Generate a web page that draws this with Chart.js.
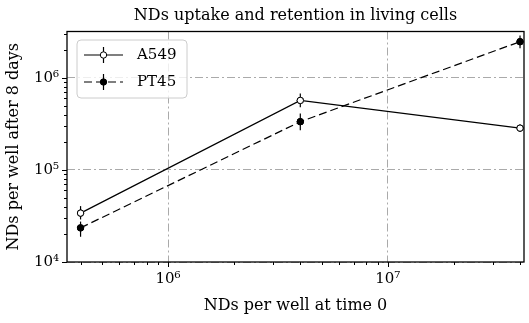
<!DOCTYPE html>
<html>
<head>
<meta charset="utf-8">
<script src="https://cdn.jsdelivr.net/npm/chart.js@4.4.0/dist/chart.umd.min.js"></script>
<style>
  html, body { margin: 0; padding: 0; background: #fff; }
  #wrap { width: 529px; height: 323px; }
</style>
</head>
<body>
<div id="wrap"><canvas id="chart" width="529" height="323"></canvas></div>
<script>
// NDs per well at time 0
const doses = [4e5, 4e6, 4e7];

// A549: value, lower / upper end of error bar
const a549 = [3.4e4, 5.7e5, 2.85e5];
const a549Lo = [2.9e4, 4.8e5, 2.6e5];
const a549Hi = [4.05e4, 6.8e5, 3.1e5];

// PT45
const pt45 = [2.35e4, 3.35e5, 2.48e6];
const pt45Lo = [1.88e4, 2.7e5, 2.1e6];
const pt45Hi = [2.75e4, 4.1e5, 2.9e6];

// axis ranges and major (labelled) ticks
const xRange = [3.47e5, 4.17e7];
const yRange = [1e4, 3.2e6];

const TITLE = 'NDs uptake and retention in living cells';
const FONT = "'DejaVu Serif', serif";
const GRID = 'rgb(170,170,170)';

var logTicks = (lo, hi) => {
    let out = [];
    for (let e = Math.floor(Math.log10(lo)); e <= Math.ceil(Math.log10(hi)); e++) {
        for (let m = 1; m <= 9; m++) {
            let v = m * Math.pow(10, e);
            if (v >= lo * 0.9999 && v <= hi * 1.0001) out.push(v);
        }
    }
    return out;
};
var isMajor = v => Math.abs(Math.log10(v) - Math.round(Math.log10(v))) < 1e-9;
const SUP = '⁰¹²³⁴⁵⁶⁷⁸⁹';
var powLabel = v => isMajor(v) ? '10' + String(Math.round(Math.log10(v))).split('').map(d => SUP[d]).join('') : '';

var pts = (ys) => doses.map((x, i) => ({ x: x, y: ys[i] }));

const errBars = [
    { lo: a549Lo, hi: a549Hi },
    { lo: pt45Lo, hi: pt45Hi }
];

// vertical error bars, markers drawn again on top
const errorBarPlugin = {
    id: 'errorBars',
    afterDatasetsDraw(chart) {
        const ctx = chart.ctx;
        const xs = chart.scales.x, ys = chart.scales.y;
        ctx.save();
        ctx.strokeStyle = '#000';
        ctx.lineWidth = 1.2;
        errBars.forEach(eb => {
            doses.forEach((d, i) => {
                const px = xs.getPixelForValue(d);
                ctx.beginPath();
                ctx.moveTo(px, ys.getPixelForValue(eb.lo[i]));
                ctx.lineTo(px, ys.getPixelForValue(eb.hi[i]));
                ctx.stroke();
            });
        });
        ctx.restore();
        chart.data.datasets.forEach((ds, di) => {
            chart.getDatasetMeta(di).data.forEach(p => p.draw(ctx, chart.chartArea));
        });
    }
};

// title, frame, tick marks and legend
const framePlugin = {
    id: 'frame',
    afterDraw(chart) {
        const ctx = chart.ctx;
        const a = chart.chartArea;
        const xs = chart.scales.x, ys = chart.scales.y;
        ctx.save();

        ctx.fillStyle = '#000';
        ctx.font = '16px ' + FONT;
        ctx.textAlign = 'center';
        ctx.textBaseline = 'alphabetic';
        ctx.fillText(TITLE, (a.left + a.right) / 2, 20);

        ctx.strokeStyle = '#000';
        ctx.lineWidth = 1;
        xs.ticks.forEach(t => {
            const px = Math.round(xs.getPixelForValue(t.value)) + 0.5;
            const len = isMajor(t.value) ? 5 : 3;
            ctx.beginPath();
            ctx.moveTo(px, a.bottom);
            ctx.lineTo(px, a.bottom + len);
            ctx.stroke();
        });
        ys.ticks.forEach(t => {
            const py = Math.round(ys.getPixelForValue(t.value)) + 0.5;
            const len = isMajor(t.value) ? 5 : 3;
            ctx.beginPath();
            ctx.moveTo(a.left, py);
            ctx.lineTo(a.left - len, py);
            ctx.stroke();
        });
        ctx.lineWidth = 1.3;
        ctx.strokeRect(a.left, a.top, a.right - a.left, a.bottom - a.top);

        // legend
        const bx = 77, by = 40, bw = 110, bh = 58;
        ctx.beginPath();
        ctx.roundRect(bx, by, bw, bh, 4);
        ctx.fillStyle = 'rgba(255,255,255,0.8)';
        ctx.fill();
        ctx.strokeStyle = 'rgb(204,204,204)';
        ctx.lineWidth = 1;
        ctx.stroke();
        chart.data.datasets.forEach((ds, i) => {
            const cy = 55 + i * 27;
            ctx.strokeStyle = '#000';
            ctx.lineWidth = 1.2;
            ctx.setLineDash(ds.borderDash || []);
            ctx.beginPath();
            ctx.moveTo(84, cy);
            ctx.lineTo(123, cy);
            ctx.stroke();
            ctx.setLineDash([]);
            ctx.beginPath();
            ctx.moveTo(103.5, cy - 8);
            ctx.lineTo(103.5, cy + 8);
            ctx.stroke();
            ctx.lineWidth = 1;
            ctx.beginPath();
            ctx.arc(103.5, cy, 3.2, 0, Math.PI * 2);
            ctx.fillStyle = ds.pointBackgroundColor;
            ctx.fill();
            ctx.stroke();
            ctx.fillStyle = '#000';
            ctx.font = '15px ' + FONT;
            ctx.textBaseline = 'middle';
            ctx.textAlign = 'left';
            ctx.fillText(ds.label, 137, cy);
        });
        ctx.restore();
    }
};

const ctx = document.getElementById('chart').getContext('2d');
var chart = new Chart(ctx, {
    type: 'line',
    data: {
        datasets: [{
            label: 'A549',
            data: pts(a549),
            borderColor: '#000',
            borderWidth: 1.2,
            pointRadius: 3.2,
            pointBorderWidth: 1,
            pointBorderColor: '#000',
            pointBackgroundColor: '#fff',
            tension: 0
        }, {
            label: 'PT45',
            data: pts(pt45),
            borderColor: '#000',
            borderWidth: 1.2,
            borderDash: [8, 4],
            pointRadius: 3.2,
            pointBorderWidth: 1,
            pointBorderColor: '#000',
            pointBackgroundColor: '#000',
            tension: 0
        }]
    },
    options: {
        responsive: false,
        animation: false,
        devicePixelRatio: 1,
        layout: { padding: { left: 0, right: 4.5, top: 31.5, bottom: 0 } },
        plugins: {
            legend: { display: false },
            tooltip: { enabled: false },
            title: { display: false }
        },
        scales: {
            x: {
                type: 'logarithmic',
                min: xRange[0],
                max: xRange[1],
                afterBuildTicks: s => { s.ticks = logTicks(xRange[0], xRange[1]).map(v => ({ value: v })); },
                afterFit: s => { s.height = 61; },
                ticks: {
                    autoSkip: false,
                    maxRotation: 0,
                    padding: 8,
                    color: '#000',
                    font: { family: FONT, size: 15 },
                    callback: v => powLabel(v)
                },
                grid: {
                    drawTicks: false,
                    lineWidth: 1,
                    color: c => (c.tick && isMajor(c.tick.value)) ? GRID : 'rgba(0,0,0,0)'
                },
                border: { display: false, dash: [8, 3, 2, 3] },
                title: {
                    display: true,
                    text: 'NDs per well at time 0',
                    color: '#000',
                    font: { family: FONT, size: 16 },
                    padding: { top: 0, bottom: 8 }
                }
            },
            y: {
                type: 'logarithmic',
                min: yRange[0],
                max: yRange[1],
                afterBuildTicks: s => { s.ticks = logTicks(yRange[0], yRange[1]).map(v => ({ value: v })); },
                afterFit: s => { s.width = 67; },
                ticks: {
                    autoSkip: false,
                    padding: 8,
                    color: '#000',
                    font: { family: FONT, size: 15 },
                    callback: v => powLabel(v)
                },
                grid: {
                    drawTicks: false,
                    lineWidth: 1,
                    color: c => (c.tick && isMajor(c.tick.value)) ? GRID : 'rgba(0,0,0,0)'
                },
                border: { display: false, dash: [8, 3, 2, 3] },
                title: {
                    display: true,
                    text: 'NDs per well after 8 days',
                    color: '#000',
                    font: { family: FONT, size: 16 },
                    padding: { top: 4, bottom: 0 }
                }
            }
        }
    },
    plugins: [errorBarPlugin, framePlugin]
});
</script>
</body>
</html>
